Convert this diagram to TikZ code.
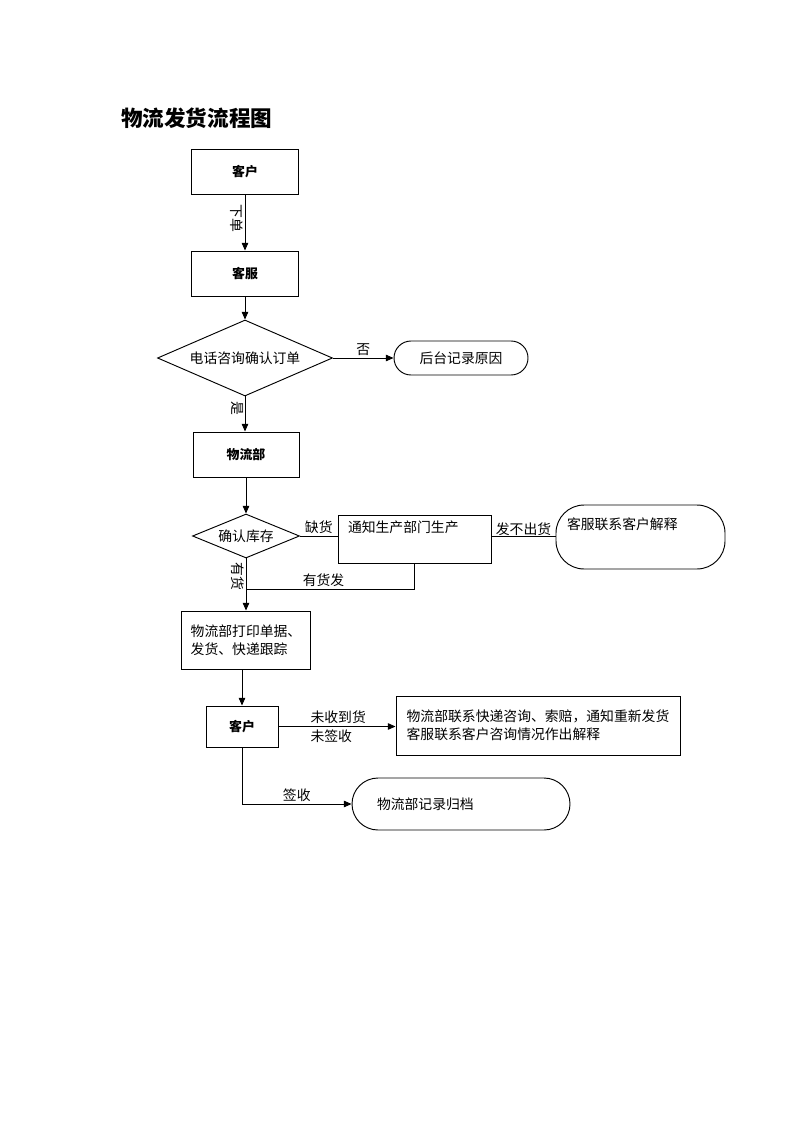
\documentclass[tikz,border=0pt]{standalone}
\usepackage{fontspec}
\setmainfont{Noto Sans CJK SC}
\usetikzlibrary{shapes.geometric,arrows.meta,positioning}
\newcommand\pxu{0.03cm}

\begin{document}
\begin{tikzpicture}[x=\pxu, y=-\pxu,
    font=\fontsize{11.8}{15}\selectfont,
    box/.style={draw, line width=0.8pt, inner sep=0pt},
    hbox/.style={box, font=\fontsize{11}{13}\selectfont\bfseries},
    dia/.style={draw, diamond, line width=0.8pt, inner sep=0pt},
    term/.style={draw, line width=0.8pt, inner sep=0pt},
    arr/.style={line width=0.8pt, -{Triangle[length=6.5pt,width=5.5pt]}},
    ln/.style={line width=0.8pt},
    lbl/.style={inner sep=2pt},
    vlbl/.style={inner sep=1pt, rotate=-90, anchor=north}]

    \useasboundingbox (0,0) rectangle (800,1132);

    % title
    \node[anchor=west, inner sep=0pt, font=\fontsize{18.4}{22}\selectfont\bfseries] (title) at (121,118) {物流发货流程图};

    % order and phone check
    \node[hbox, minimum width=107*\pxu, minimum height=45*\pxu] (kh1) at (245,171.5) {客户};
    \node[hbox, minimum width=107*\pxu, minimum height=45*\pxu] (kf) at (245,273.5) {客服};
    \node[dia, minimum width=175*\pxu, minimum height=76*\pxu, aspect=2.3] (dh) at (245,358) {电话咨询确认订单};
    \node[term, rounded corners=17*\pxu, minimum width=134*\pxu, minimum height=34*\pxu] (hr) at (461,358) {后台记录原因};

    % stock check
    \node[hbox, minimum width=106*\pxu, minimum height=45*\pxu] (wl) at (246,454.5) {物流部};
    \node[dia, minimum width=107*\pxu, minimum height=44*\pxu, aspect=2.4] (kc) at (246,536) {确认库存};
    \node[box, minimum width=153*\pxu, text width=133*\pxu, align=left, inner xsep=10*\pxu,
          text height=14.8pt, text depth=26.2pt] (tz) at (414.5,539) {通知生产部门生产};
    \node[term, rounded corners=28*\pxu, minimum width=169*\pxu, text width=147*\pxu, align=left,
          inner xsep=11*\pxu, text height=20.7pt, text depth=33.9pt] (js) at (640.5,537) {客服联系客户解释};
    \coordinate (hj) at (246,589);

    % shipping
    \node[box, minimum width=129*\pxu, minimum height=58*\pxu, align=left] (dy) at (246,640) {物流部打印单据、\\发货、快递跟踪};
    \node[hbox, minimum width=72*\pxu, minimum height=41*\pxu] (kh2) at (242,726.5) {客户};
    \node[box, minimum width=284*\pxu, minimum height=59*\pxu, align=left] (sb) at (538,725.5) {物流部联系快递咨询、索赔，通知重新发货\\客服联系客户咨询情况作出解释};
    \node[term, rounded corners=26*\pxu, minimum width=218*\pxu, minimum height=52*\pxu,
          text width=168*\pxu, align=left, inner xsep=25*\pxu] (gd) at (461,804) {物流部记录归档};

    \draw[arr] (kh1) -- node[vlbl, pos=0.42] {下单} (kf);
    \draw[arr] (kf) -- (dh);
    \draw[arr] (dh) -- node[lbl, above] {否} (hr);
    \draw[arr] (dh.south) -- node[vlbl, pos=0.33] {是} (dh.south |- wl.north);
    \draw[arr] (wl) -- (kc);
    \draw[ln] (kc.east) -- node[lbl, above] {缺货} (kc.east -| tz.west);
    \draw[ln] (kc.east -| tz.east) -- node[above, inner sep=0pt] {发不出货} (kc.east -| js.west);
    \draw[arr] (kc) -- node[vlbl, pos=0.34] {有货} (dy);
    \draw[ln] (tz.south) |- node[lbl, above, pos=0.77] {有货发} (hj);
    \draw[arr] (dy.south -| kh2.north) -- (kh2.north);
    \draw[arr] (kh2.east) -- node[lbl, anchor=south west, pos=0.25] {未收到货}
        node[lbl, anchor=north west, pos=0.25] {未签收} (kh2.east -| sb.west);
    \draw[arr] (kh2.south) |- node[lbl, above, pos=0.75] {签收} (gd.west);

\end{tikzpicture}
\end{document}
